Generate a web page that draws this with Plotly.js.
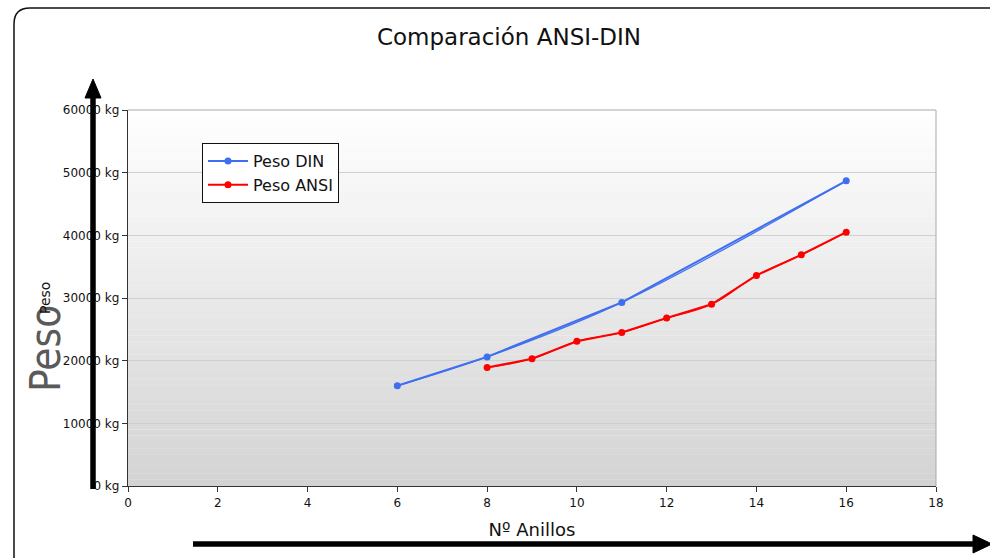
<!DOCTYPE html>
<html>
<head>
<meta charset="utf-8">
<script src="https://cdn.plot.ly/plotly-3.0.1.min.js"></script>
<style>
html,body{margin:0;padding:0;background:#fff;}
#chart{width:990px;height:558px;}
</style>
</head>
<body>
<div id="chart"></div>
<script>
// Data
const dinAnillos = [6, 8, 11, 16];
const dinPeso = [16000, 20600, 29300, 48700];
const ansiAnillos = [8, 9, 10, 11, 12, 13, 14, 15, 16];
const ansiPeso = [18900, 20300, 23100, 24500, 26800, 29000, 33600, 36900, 40500];
const xTicks = [0, 2, 4, 6, 8, 10, 12, 14, 16, 18];
const yTicks = [0, 10000, 20000, 30000, 40000, 50000, 60000];

const W = 990, H = 558;
const M = {l: 128, r: 54, t: 110, b: 72};
const PW = W - M.l - M.r, PH = H - M.t - M.b;
const px = x => (x - M.l) / PW;
const py = y => (M.t + PH - y) / PH;

const FONT = 'DejaVu Sans, sans-serif';
const NARROW = 'DejaVu Sans Condensed, Liberation Sans Narrow, sans-serif';

const traces = [
  {x: dinAnillos, y: dinPeso, mode: 'lines', line: {color: '#3f6ff0', width: 1.2, shape: 'spline'},
   showlegend: false, hoverinfo: 'skip'},
  {x: dinAnillos, y: dinPeso, mode: 'lines+markers', name: 'Peso DIN',
   line: {color: '#3f6ff0', width: 2}, marker: {color: '#3f6ff0', size: 7}},
  {x: ansiAnillos, y: ansiPeso, mode: 'lines', line: {color: '#ff0000', width: 1.2, shape: 'spline', smoothing: 1.3},
   showlegend: false, hoverinfo: 'skip'},
  {x: ansiAnillos, y: ansiPeso, mode: 'lines+markers', name: 'Peso ANSI',
   line: {color: '#ff0000', width: 2}, marker: {color: '#ff0000', size: 7}}
];

const shapes = [];
const N = 60;
for (let i = 0; i < N; i++) {
  const t = (i + 0.5) / N;
  const v = Math.round(255 - t * (255 - 211));
  shapes.push({type: 'rect', xref: 'paper', yref: 'paper', x0: 0, x1: 1,
    y0: 1 - (i + 1) / N, y1: 1 - i / N + 0.0005, fillcolor: `rgb(${v},${v},${v})`,
    line: {width: 0}, layer: 'below'});
}
shapes.push({type: 'line', xref: 'paper', yref: 'paper', x0: 0, x1: 1, y0: 1, y1: 1, line: {color: '#a8a8a8', width: 1}});
shapes.push({type: 'line', xref: 'paper', yref: 'paper', x0: 1, x1: 1, y0: 0, y1: 1, line: {color: '#a8a8a8', width: 1}});
const fx0 = px(14), fy0 = py(8), fx1 = px(1000), fyb = py(570);
const rx = 16 / PW, ry = 16 / PH;
shapes.push({type: 'path', xref: 'paper', yref: 'paper',
  path: `M ${fx0} ${fyb} L ${fx0} ${fy0 - ry} Q ${fx0} ${fy0} ${fx0 + rx} ${fy0} L ${fx1} ${fy0}`,
  line: {color: '#111', width: 1.5}});
shapes.push({type: 'line', xref: 'paper', yref: 'paper', x0: px(93), x1: px(93), y0: py(489), y1: py(94), line: {color: '#000', width: 5.5}});
shapes.push({type: 'path', xref: 'paper', yref: 'paper',
  path: `M ${px(85)} ${py(98)} L ${px(93)} ${py(79)} L ${px(101)} ${py(98)} Z`, fillcolor: '#000', line: {color: '#000', width: 1}});
shapes.push({type: 'line', xref: 'paper', yref: 'paper', x0: px(193), x1: px(976), y0: py(544), y1: py(544), line: {color: '#000', width: 5.5}});
shapes.push({type: 'path', xref: 'paper', yref: 'paper',
  path: `M ${px(973)} ${py(535)} L ${px(992)} ${py(544)} L ${px(973)} ${py(553)} Z`, fillcolor: '#000', line: {color: '#000', width: 1}});

const layout = {
  width: W, height: H,
  margin: M,
  paper_bgcolor: '#ffffff',
  plot_bgcolor: 'rgba(0,0,0,0)',
  font: {family: FONT, color: '#111', size: 11},
  title: {text: 'Comparación ANSI-DIN', x: 509 / W, xref: 'container', xanchor: 'center', y: 1 - 37 / H, yanchor: 'middle',
          font: {family: FONT, size: 23, color: '#111'}},
  xaxis: {range: [0, 18], tickvals: xTicks, ticktext: xTicks.map(String), ticks: 'outside', ticklen: 5, tickcolor: '#333',
          showgrid: false, zeroline: false, showline: true, linecolor: '#333', linewidth: 1.2,
          tickfont: {family: FONT, size: 12, color: '#111'},
          title: {text: 'Nº Anillos', font: {family: FONT, size: 18, color: '#111'}, standoff: 14}},
  yaxis: {range: [0, 60000], tickvals: yTicks, ticktext: yTicks.map(v => v + ' kg'), ticks: 'outside', ticklen: 5, tickcolor: '#333',
          showgrid: true, gridcolor: '#cfcfcf', gridwidth: 1, zeroline: false, showline: true, linecolor: '#333', linewidth: 1.2,
          tickfont: {family: FONT, size: 12, color: '#111'}},
  legend: {x: px(202), y: py(143), xanchor: 'left', yanchor: 'top', bgcolor: '#ffffff', bordercolor: '#111', borderwidth: 1,
           font: {family: FONT, size: 16, color: '#111'}, tracegroupgap: 0, itemwidth: 40},
  shapes: shapes,
  annotations: [
    {text: 'Peso', xref: 'paper', yref: 'paper', x: px(45), y: py(349), xanchor: 'center', yanchor: 'middle',
     textangle: -90, showarrow: false, font: {family: NARROW, size: 42, color: '#5a5a5a'}},
    {text: 'Peso', xref: 'paper', yref: 'paper', x: px(45), y: py(298), xanchor: 'center', yanchor: 'middle',
     textangle: -90, showarrow: false, font: {family: FONT, size: 14, color: '#111'}}
  ],
  showlegend: true
};

Plotly.newPlot('chart', traces, layout, {displayModeBar: false, staticPlot: true});
</script>
</body>
</html>
